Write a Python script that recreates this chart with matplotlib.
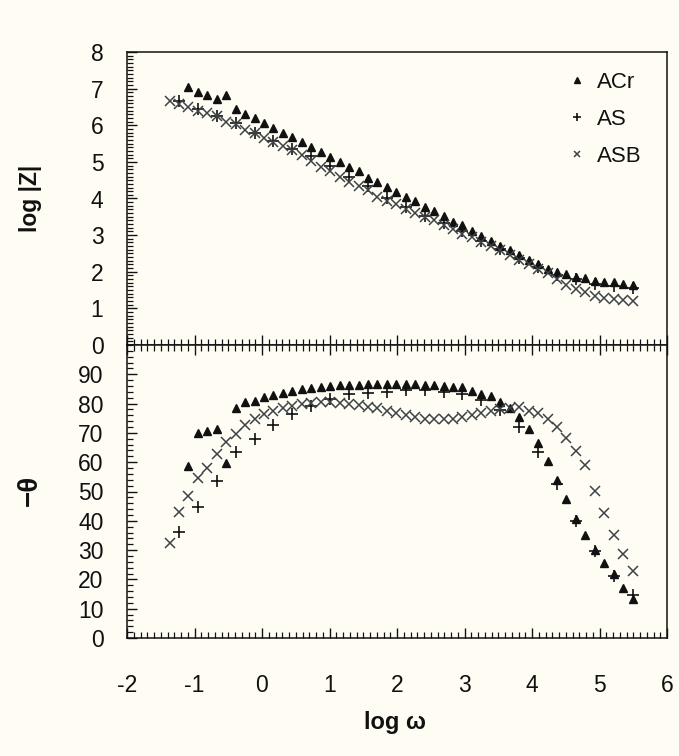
#!/usr/bin/env python3
"""Bode plot (modulus and phase) for the ACr, AS and ASB coatings."""

import matplotlib

matplotlib.use("Agg")
import matplotlib.pyplot as plt
from matplotlib.ticker import MultipleLocator

plt.rcParams["font.family"] = ["Liberation Sans", "DejaVu Sans"]
plt.rcParams["axes.unicode_minus"] = False

# log(omega) grid shared by ACr and ASB; AS was sampled on every other point
LOG_W = [-1.37, -1.23, -1.09, -0.95, -0.81, -0.67, -0.53, -0.39, -0.25, -0.11,
         0.03, 0.17, 0.31, 0.45, 0.59, 0.73, 0.87, 1.01, 1.15, 1.29,
         1.43, 1.57, 1.71, 1.85, 1.99, 2.13, 2.27, 2.41, 2.55, 2.69,
         2.83, 2.97, 3.11, 3.25, 3.39, 3.53, 3.67, 3.81, 3.95, 4.09,
         4.23, 4.37, 4.51, 4.65, 4.79, 4.93, 5.07, 5.21, 5.35, 5.49]
LOG_W_ACR = LOG_W[2:]
LOG_W_AS = LOG_W[1::2]
LOG_W_ASB = LOG_W

# log |Z|
LOGZ_ACR = [7.04, 6.92, 6.83, 6.71, 6.83, 6.45, 6.31, 6.19, 6.06, 5.92,
            5.78, 5.67, 5.54, 5.40, 5.26, 5.13, 4.99, 4.87, 4.74, 4.57,
            4.46, 4.31, 4.17, 4.05, 3.92, 3.76, 3.65, 3.52, 3.37, 3.27,
            3.12, 2.98, 2.84, 2.70, 2.60, 2.46, 2.32, 2.21, 2.08, 2.00,
            1.94, 1.87, 1.82, 1.76, 1.73, 1.73, 1.67, 1.64]
LOGZ_AS = [6.67, 6.44, 6.24, 6.06, 5.80, 5.57, 5.35, 5.15, 4.89, 4.60,
           4.33, 4.01, 3.76, 3.52, 3.32, 3.11, 2.85, 2.61, 2.37, 2.12,
           1.91, 1.80, 1.67, 1.61, 1.55]
LOGZ_ASB = [6.65, 6.58, 6.49, 6.40, 6.33, 6.24, 6.10, 6.03, 5.87, 5.80,
            5.65, 5.55, 5.42, 5.33, 5.18, 5.02, 4.87, 4.74, 4.60, 4.46,
            4.35, 4.23, 4.05, 3.94, 3.85, 3.72, 3.60, 3.49, 3.40, 3.28,
            3.17, 3.03, 2.96, 2.81, 2.70, 2.60, 2.46, 2.32, 2.21, 2.08,
            1.96, 1.80, 1.64, 1.52, 1.46, 1.34, 1.28, 1.25, 1.23, 1.21]

# -theta (degrees)
PHASE_ACR = [58.7, 70.1, 70.8, 71.2, 59.7, 78.4, 80.4, 81.0, 82.4, 82.9,
             83.5, 84.4, 84.9, 85.2, 85.8, 86.0, 86.2, 86.3, 86.4, 86.6,
             86.7, 86.7, 86.7, 86.7, 86.6, 86.3, 86.2, 86.0, 85.8, 85.6,
             84.4, 83.3, 82.6, 80.7, 78.4, 75.5, 71.2, 66.4, 60.5, 53.9,
             47.4, 40.6, 35.0, 30.0, 25.5, 21.8, 17.0, 13.2]
PHASE_AS = [36.3, 44.6, 53.6, 63.6, 67.8, 72.7, 76.3, 79.2, 81.6, 83.4,
            83.5, 84.0, 84.8, 84.5, 83.8, 83.2, 81.3, 77.8, 71.9, 63.4,
            52.5, 40.0, 29.7, 21.2, 14.7]
PHASE_ASB = [32.3, 43.1, 48.5, 54.5, 58.1, 62.7, 67.0, 69.6, 72.7, 74.6,
             76.3, 77.6, 78.5, 79.2, 79.7, 80.1, 80.4, 80.5, 80.3, 80.0,
             79.5, 79.0, 78.4, 77.6, 76.8, 76.0, 75.3, 74.8, 74.6, 74.6,
             74.8, 75.3, 76.0, 76.8, 77.6, 78.2, 78.6, 78.7, 77.6, 76.7,
             74.6, 71.9, 68.2, 63.8, 59.0, 50.2, 42.5, 35.3, 28.7, 22.8]

BG = "#fffdf3"
INK = "#111111"
ASB_COLOR = "#3c4347"
W, H = 679, 756


def style_axis(ax, top_ticks, bottom_ticks):
    ax.set_facecolor(BG)
    ax.set_xlim(-2, 6)
    ax.xaxis.set_major_locator(MultipleLocator(1))
    ax.xaxis.set_minor_locator(MultipleLocator(0.1))
    ax.tick_params(which="both", direction="in", colors=INK, labelsize=16.5,
                   top=top_ticks, bottom=bottom_ticks, right=False, left=True)
    ax.tick_params(which="major", length=7, width=1.0)
    ax.tick_params(which="minor", length=4, width=0.9)
    ax.tick_params(axis="y", pad=17)
    ax.tick_params(axis="x", pad=26)
    for spine in ax.spines.values():
        spine.set_color(INK)
        spine.set_linewidth(1.1)


def px_box(left, top, right, bottom):
    return [left / W, 1 - bottom / H, (right - left) / W, (bottom - top) / H]


def main():
    fig = plt.figure(figsize=(W / 100, H / 100), dpi=100, facecolor=BG)
    ax_z = fig.add_axes(px_box(127, 52, 667, 345))
    ax_p = fig.add_axes(px_box(127, 345, 667, 638))

    # modulus
    style_axis(ax_z, top_ticks=False, bottom_ticks=True)
    ax_z.set_ylim(0, 8)
    ax_z.yaxis.set_major_locator(MultipleLocator(1))
    ax_z.yaxis.set_minor_locator(MultipleLocator(0.1))
    ax_z.tick_params(axis="x", labelbottom=False)
    ax_z.plot(LOG_W_ACR, LOGZ_ACR, ls="none", marker="^", ms=5.5, color=INK, label="ACr")
    ax_z.plot(LOG_W_AS, LOGZ_AS, ls="none", marker="+", ms=8.5, mew=1.2, color=INK, label="AS")
    ax_z.plot(LOG_W_ASB, LOGZ_ASB, ls="none", marker="x", ms=6.5, mew=1.1, color=ASB_COLOR,
              label="ASB")
    leg = ax_z.legend(loc="upper right", bbox_to_anchor=(0.99, 1.0), frameon=False,
                      fontsize=16, markerscale=0.7, handlelength=0.6, handletextpad=0.6,
                      labelspacing=0.72)
    for text in leg.get_texts():
        text.set_color(INK)

    # phase
    style_axis(ax_p, top_ticks=True, bottom_ticks=True)
    ax_p.set_ylim(0, 100)
    ax_p.set_yticks(range(0, 100, 10))
    ax_p.yaxis.set_minor_locator(MultipleLocator(2))
    ax_p.plot(LOG_W_ACR, PHASE_ACR, ls="none", marker="^", ms=5.5, color=INK)
    ax_p.plot(LOG_W_AS, PHASE_AS, ls="none", marker="+", ms=8.5, mew=1.2, color=INK)
    ax_p.plot(LOG_W_ASB, PHASE_ASB, ls="none", marker="x", ms=6.5, mew=1.1, color=ASB_COLOR)

    fig.text(30 / W, 1 - 198 / H, "log |Z|", rotation=90, ha="center", va="center",
             fontsize=16.5, fontweight="bold", color=INK)
    fig.text(30 / W, 1 - 490 / H, "\u2212\u03b8", rotation=90, ha="center", va="center",
             fontsize=20, fontweight="bold", color=INK)
    fig.text(395 / W, 1 - 722 / H, "log \u03c9", ha="center", va="center",
             fontsize=17, fontweight="bold", color=INK)

    fig.savefig("out.png", dpi=100, facecolor=BG)
    plt.close(fig)


if __name__ == "__main__":
    main()
